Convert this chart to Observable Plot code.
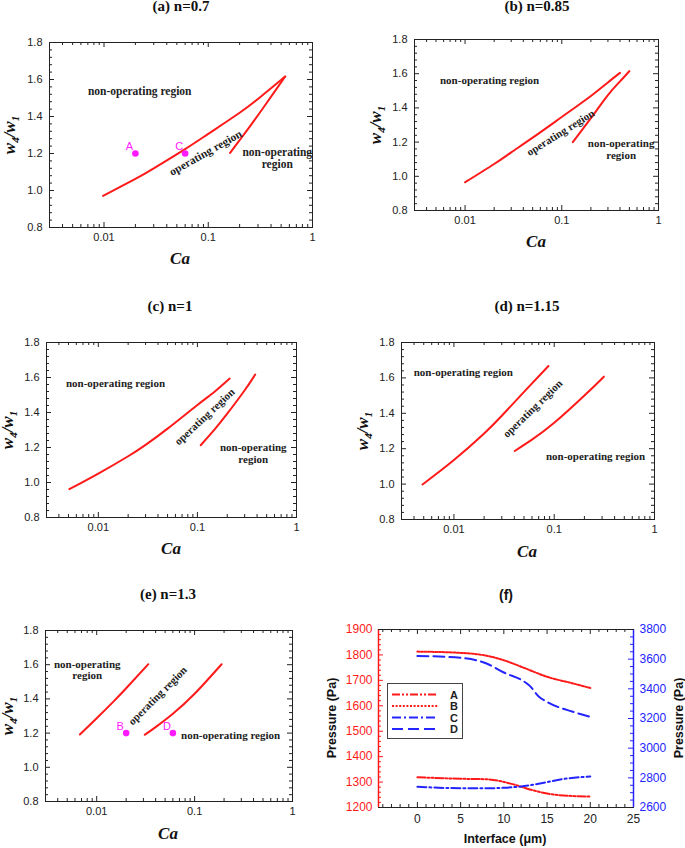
<!DOCTYPE html>
<html><head><meta charset="utf-8">
<script src="https://cdn.jsdelivr.net/npm/d3@7"></script>
<script src="https://cdn.jsdelivr.net/npm/@observablehq/plot@0.6"></script>
<style>
body{margin:0;background:#fff;}
#root{position:relative;width:685px;height:848px;overflow:hidden;font-family:"Liberation Sans",Arial,sans-serif;}
.pan{position:absolute;}
.lbl{position:absolute;white-space:nowrap;color:#111;}
.ttl{font-family:"Liberation Serif","Times New Roman",serif;font-weight:bold;font-size:15px;line-height:15px;transform:translateX(-50%);}
.ca{font-family:"Liberation Serif","Times New Roman",serif;font-weight:bold;font-style:italic;font-size:17px;line-height:17px;transform:translateX(-50%);}
.wl{font-family:"Liberation Serif","Times New Roman",serif;font-weight:bold;font-style:italic;font-size:17px;line-height:17px;transform:translate(-50%,-50%) rotate(-90deg);}
.wl span{font-size:11px;position:relative;top:4px;}
.sl{font-weight:bold;font-size:12.5px;line-height:12.5px;}
.box{position:absolute;box-sizing:border-box;pointer-events:none;}
#legend{position:absolute;border:1px solid #444;background:#fff;box-sizing:border-box;}
</style></head><body><div id="root"></div>
<script>
// ---------- DATA ----------
// (a) n=0.7
const caA_up = [0.0098, 0.02, 0.03, 0.06, 0.1, 0.2, 0.3, 0.4, 0.547];
const wA_up  = [0.971, 1.063, 1.12, 1.224, 1.306, 1.42, 1.495, 1.553, 1.616];
const caA_lo = [0.162, 0.2, 0.25, 0.34, 0.45, 0.547];
const wA_lo  = [1.203, 1.272, 1.345, 1.45, 1.548, 1.616];
// (b) n=0.85
const caB_up = [0.01, 0.02, 0.03, 0.05, 0.1, 0.2, 0.3, 0.4];
const wB_up  = [0.965, 1.072, 1.14, 1.226, 1.347, 1.47, 1.549, 1.605];
const caB_lo = [0.13, 0.2, 0.3, 0.4, 0.5];
const wB_lo  = [1.2, 1.34, 1.475, 1.555, 1.615];
// (c) n=1
const caC_up = [0.0051, 0.01, 0.02, 0.03, 0.05, 0.1, 0.15, 0.212];
const wC_up  = [0.962, 1.051, 1.15, 1.215, 1.308, 1.443, 1.52, 1.594];
const caC_lo = [0.108, 0.15, 0.2, 0.3, 0.383];
const wC_lo  = [1.213, 1.305, 1.393, 1.527, 1.617];
// (d) n=1.15
const caD_up = [0.00486, 0.01, 0.02, 0.03, 0.05, 0.0876];
const wD_up  = [0.998, 1.136, 1.286, 1.386, 1.521, 1.667];
const caD_lo = [0.0404, 0.06, 0.1, 0.2, 0.313];
const wD_lo  = [1.187, 1.251, 1.346, 1.5, 1.607];
// (e) n=1.3
const caE_up = [0.00673, 0.01, 0.015, 0.02, 0.0337];
const wE_up  = [1.192, 1.287, 1.387, 1.462, 1.603];
const caE_lo = [0.0309, 0.04, 0.06, 0.1, 0.189];
const wE_lo  = [1.19, 1.235, 1.313, 1.43, 1.603];
// operating points
const ptsA_names = ["A", "C"]; const ptsA_ca = [0.02, 0.06]; const ptsA_w = [1.2, 1.2];
const ptsE_names = ["B", "D"]; const ptsE_ca = [0.02, 0.06]; const ptsE_w = [1.2, 1.2];
// (f) pressure along interface
const fA_x = [0, 5, 8, 11, 13, 15, 18, 20];
const fA_p = [1319, 1313, 1311, 1292, 1271, 1255, 1245, 1243];
const fB_x = [0, 5, 8, 10, 12.5, 15, 18, 20];
const fB_p = [1813, 1808, 1797, 1779, 1747, 1714, 1688, 1670];
const fC_x = [0, 5, 8, 10, 12, 14, 17, 20];
const fC_p = [2740, 2730, 2730, 2733, 2742, 2760, 2793, 2809];
const fD_x = [0, 5, 8, 10, 12.5, 13, 14, 15, 18, 20];
const fD_p = [3622, 3609, 3571, 3510, 3443, 3420, 3350, 3312, 3245, 3211];
// tick labels
const caTicks = [0.01, 0.1, 1];
const wTicks = [0.8, 1.0, 1.2, 1.4, 1.6, 1.8];
const fXTicks = [0, 5, 10, 15, 20, 25];
const fLeftTicks = [1200, 1300, 1400, 1500, 1600, 1700, 1800, 1900];
const fRightTicks = [2600, 2800, 3000, 3200, 3400, 3600, 3800];
const titles = ["(a) n=0.7", "(b) n=0.85", "(c) n=1", "(d) n=1.15", "(e) n=1.3", "(f)"];

// ---------- HELPERS ----------
const root = document.getElementById("root");
const zip = (xs, ys) => xs.map((x, i) => ({x, y: ys[i]}));
const RED = "#ff1a1a", BLUE = "#2424ff", MAG = "#ff1aff", INK = "#222", FRAME = "#222";
const serif = "'Liberation Serif','Times New Roman',serif";
const sans = "'Liberation Sans',Arial,sans-serif";

function place(svg, left, top) {
  const d = document.createElement("div");
  d.className = "pan"; d.style.left = left + "px"; d.style.top = top + "px";
  d.appendChild(svg); root.appendChild(d);
}
function frameBox(fx, fy, fw, fh, css) {
  const b = document.createElement("div");
  b.className = "box";
  Object.assign(b.style, {left: fx + "px", top: fy + "px", width: (fw + 1) + "px", height: (fh + 1) + "px"}, css);
  root.appendChild(b);
}

const xMinorLog = [];
for (const dec of [0.001, 0.01, 0.1]) for (let k = 2; k <= 9; k++) {
  const v = +(k * dec).toPrecision(3);
  if (v >= 0.003 && v < 1) xMinorLog.push(v);
}
const wMinor = d3.range(21, 45).map(i => +(i * 0.04).toFixed(2)).filter(v => v > 0.8 && v < 1.8 && Math.abs(v * 5 - Math.round(v * 5)) > 1e-6);

function xTicks(vals, H, len, color) {
  return [
    Plot.ruleX(vals, {x: d => d, insetTop: H - len, stroke: color, strokeWidth: 1}),
    Plot.ruleX(vals, {x: d => d, insetBottom: H - len, stroke: color, strokeWidth: 1})
  ];
}
function yTicksL(vals, W, len, color) { return [Plot.ruleY(vals, {y: d => d, insetRight: W - len, stroke: color, strokeWidth: 1})]; }
function yTicksR(vals, W, len, color) { return [Plot.ruleY(vals, {y: d => d, insetLeft: W - len, stroke: color, strokeWidth: 1})]; }

function logPanel(cfg) {
  const W = cfg.fw, H = cfg.fh, mL = 42, mR = 14, mT = 8, mB = 24;
  const xd = [0.003, 1], yd = [0.8, 1.8];
  const marks = [
    Plot.frame({stroke: FRAME}),
    ...xTicks(caTicks, H, 5, FRAME),
    ...xTicks(xMinorLog, H, 3, FRAME),
    ...yTicksL(wTicks, W, 5, FRAME), ...yTicksR(wTicks, W, 5, FRAME),
    ...yTicksL(wMinor, W, 3, FRAME), ...yTicksR(wMinor, W, 3, FRAME),
    Plot.axisX({ticks: caTicks, tickSize: 0, tickPadding: 6, tickFormat: d => String(d), fontSize: 11, fill: INK, label: null}),
    Plot.axisY({ticks: wTicks, tickSize: 0, tickPadding: 7, tickFormat: d => d.toFixed(1), fontSize: 11, fill: INK, label: null}),
    Plot.line(zip(cfg.up[0], cfg.up[1]), {x: "x", y: "y", stroke: RED, strokeWidth: 2, curve: "natural"}),
    Plot.line(zip(cfg.lo[0], cfg.lo[1]), {x: "x", y: "y", stroke: RED, strokeWidth: 2, curve: "natural"}),
    Plot.text(cfg.notes, {x: "ca", y: "w", text: "t", rotate: "r", fontFamily: serif, fontWeight: "bold", fontSize: cfg.fs, fill: INK, lineHeight: 1.08})
  ];
  if (cfg.pts) {
    const P = cfg.pts[0].map((n, i) => ({n, x: cfg.pts[1][i], y: cfg.pts[2][i]}));
    marks.push(Plot.dot(P, {x: "x", y: "y", r: 3.3, fill: MAG, stroke: "none"}));
    marks.push(Plot.text(P, {x: "x", y: "y", text: "n", dx: -6, dy: -7, fill: MAG, fontSize: 11, fontFamily: sans}));
  }
  const svg = Plot.plot({
    width: W + mL + mR, height: H + mT + mB,
    marginLeft: mL, marginRight: mR, marginTop: mT, marginBottom: mB,
    style: {fontFamily: sans, fontSize: "11px", background: "transparent", overflow: "visible"},
    x: {type: "log", domain: xd, label: null},
    y: {domain: yd, label: null},
    marks
  });
  place(svg, cfg.fx - mL, cfg.fy - mT);
  frameBox(cfg.fx, cfg.fy, W, H, {border: "1px solid " + FRAME});
}

// ---------- PANELS a–e ----------
logPanel({fx: 49, fy: 42, fw: 263, fh: 185, fs: 11.5,
  up: [caA_up, wA_up], lo: [caA_lo, wA_lo], pts: [ptsA_names, ptsA_ca, ptsA_w],
  notes: [
    {t: "non-operating region", ca: 0.022, w: 1.54, r: 0},
    {t: "operating region", ca: 0.094, w: 1.205, r: -29.5},
    {t: "non-operating\nregion", ca: 0.459, w: 1.174, r: 0}
  ]});
logPanel({fx: 414, fy: 39, fw: 244, fh: 171, fs: 11,
  up: [caB_up, wB_up], lo: [caB_lo, wB_lo],
  notes: [
    {t: "non-operating region", ca: 0.0179, w: 1.56, r: 0},
    {t: "operating region", ca: 0.097, w: 1.256, r: -32},
    {t: "non-operating\nregion", ca: 0.411, w: 1.158, r: 0}
  ]});
logPanel({fx: 46, fy: 342, fw: 250, fh: 175, fs: 11,
  up: [caC_up, wC_up], lo: [caC_lo, wC_lo],
  notes: [
    {t: "non-operating region", ca: 0.0149, w: 1.566, r: 0},
    {t: "operating region", ca: 0.118, w: 1.377, r: -43},
    {t: "non-operating\nregion", ca: 0.366, w: 1.17, r: 0}
  ]});
logPanel({fx: 401, fy: 342, fw: 253, fh: 177, fs: 11,
  up: [caD_up, wD_up], lo: [caD_lo, wD_lo],
  notes: [
    {t: "non-operating region", ca: 0.0124, w: 1.63, r: 0},
    {t: "operating region", ca: 0.0607, w: 1.427, r: -44},
    {t: "non-operating region", ca: 0.258, w: 1.156, r: 0}
  ]});
logPanel({fx: 45, fy: 630, fw: 247, fh: 171, fs: 11,
  up: [caE_up, wE_up], lo: [caE_lo, wE_lo], pts: [ptsE_names, ptsE_ca, ptsE_w],
  notes: [
    {t: "non-operating\nregion", ca: 0.008, w: 1.571, r: 0},
    {t: "operating region", ca: 0.0418, w: 1.42, r: -45},
    {t: "non-operating region", ca: 0.233, w: 1.186, r: 0}
  ]});

// ---------- PANEL f ----------
(function () {
  const W = 255, H = 178, mL = 42, mR = 42, mT = 8, mB = 24;
  const xDom = [-4.5, 25], yDom = [1200, 1900], rDom = [2600, 3800];
  const toL = v => yDom[0] + (v - rDom[0]) * (yDom[1] - yDom[0]) / (rDom[1] - rDom[0]);
  const fromL = v => rDom[0] + (v - yDom[0]) * (rDom[1] - rDom[0]) / (yDom[1] - yDom[0]);
  const xMinor = d3.range(-4, 25).filter(v => v % 5 !== 0);
  const lMinor = d3.range(1220, 1900, 20).filter(v => v % 100 !== 0);
  const rMinor = d3.range(2650, 3800, 50).filter(v => v % 200 !== 0).map(toL);
  const rMajor = fRightTicks.map(toL);
  const series = [
    {x: fA_x, y: fA_p, c: RED, dash: "8,2,2,2,2,2"},
    {x: fB_x, y: fB_p, c: RED, dash: "2,1.6"},
    {x: fC_x, y: fC_p.map(toL), c: BLUE, dash: "9,3,2,3"},
    {x: fD_x, y: fD_p.map(toL), c: BLUE, dash: "11,5"}
  ];
  const marks = [
    Plot.frame({stroke: FRAME}),
    ...xTicks(fXTicks, H, 5, FRAME),
    ...xTicks(xMinor, H, 3, FRAME),
    ...yTicksL(fLeftTicks, W, 5, RED), ...yTicksL(lMinor, W, 3, RED),
    ...yTicksR(rMajor, W, 5, BLUE), ...yTicksR(rMinor, W, 3, BLUE),
    Plot.ruleX([xDom[0]], {x: d => d, stroke: RED, strokeWidth: 1.5}),
    Plot.ruleX([xDom[1]], {x: d => d, stroke: BLUE, strokeWidth: 1.5}),
    Plot.axisX({ticks: fXTicks, tickSize: 0, tickPadding: 7, tickFormat: d => String(d), fontSize: 12, fill: INK, label: null}),
    Plot.axisY({ticks: fLeftTicks, tickSize: 0, tickPadding: 6, tickFormat: d => String(d), fontSize: 12, fill: RED, label: null}),
    Plot.axisY({anchor: "right", ticks: rMajor, tickSize: 0, tickPadding: 6, fontSize: 12, fill: BLUE, label: null,
      tickFormat: d => String(Math.round(fromL(d)))}),
    ...series.map(s => Plot.line(zip(s.x, s.y), {x: "x", y: "y", stroke: s.c, strokeWidth: 2, strokeDasharray: s.dash, curve: "monotone-x"}))
  ];
  const svg = Plot.plot({
    width: W + mL + mR, height: H + mT + mB,
    marginLeft: mL, marginRight: mR, marginTop: mT, marginBottom: mB,
    style: {fontFamily: sans, fontSize: "12px", background: "transparent", overflow: "visible"},
    x: {domain: xDom, label: null},
    y: {domain: yDom, label: null},
    marks
  });
  place(svg, 378 - mL, 629 - mT);
  frameBox(378, 629, W, H, {borderTop: "1px solid " + FRAME, borderBottom: "1px solid " + FRAME});

  // legend
  const lg = document.createElement("div");
  lg.id = "legend";
  Object.assign(lg.style, {left: "387px", top: "683px", width: "76px", height: "56px"});
  const names = ["A", "B", "C", "D"];
  const ns = "http://www.w3.org/2000/svg";
  const ls = document.createElementNS(ns, "svg");
  ls.setAttribute("width", 74); ls.setAttribute("height", 54);
  series.forEach((s, i) => {
    const yy = 10.5 + i * 11.5;
    const ln = document.createElementNS(ns, "line");
    ln.setAttribute("x1", 4); ln.setAttribute("x2", 50); ln.setAttribute("y1", yy); ln.setAttribute("y2", yy);
    ln.setAttribute("stroke", s.c); ln.setAttribute("stroke-width", 2); ln.setAttribute("stroke-dasharray", s.dash);
    ls.appendChild(ln);
    const tx = document.createElementNS(ns, "text");
    tx.setAttribute("x", 66); tx.setAttribute("y", yy + 4); tx.setAttribute("text-anchor", "middle");
    tx.setAttribute("font-family", sans); tx.setAttribute("font-weight", "bold"); tx.setAttribute("font-size", 11);
    tx.setAttribute("fill", INK);
    tx.textContent = names[i];
    ls.appendChild(tx);
  });
  lg.appendChild(ls);
  root.appendChild(lg);
})();

// ---------- TITLES & AXIS LABELS (HTML) ----------
(function () {
  function lbl(cls, html, left, top, extra) {
    const d = document.createElement("div");
    d.className = "lbl " + cls;
    d.style.left = left + "px"; d.style.top = top + "px";
    if (extra) Object.assign(d.style, extra);
    d.innerHTML = html;
    root.appendChild(d);
    return d;
  }
  const titlePos = [[181, -0.6], [537, -0.6], [170, 299.4], [527, 299.4], [168, 587.4]];
  titlePos.forEach((p, i) => lbl("ttl", titles[i], p[0], p[1]));
  lbl("sl", titles[5], 506, 588, {fontSize: "14px", lineHeight: "14px", transform: "translateX(-50%)"});
  [[180, 249.8], [536, 232.8], [171, 539.8], [527, 542.8], [168, 824.8]].forEach(p => lbl("ca", "Ca", p[0], p[1]));
  [[10.3, 134.5], [376.3, 124.5], [8.3, 429.5], [363.3, 430.5], [8.3, 715.5]].forEach(p =>
    lbl("wl", "w<span>4</span>/w<span>1</span>", p[0], p[1]));
  lbl("sl", "Interface (\u03bcm)", 505, 833.4, {transform: "translateX(-50%)"});
  [[331.7, 718], [678.7, 718]].forEach(p =>
    lbl("sl", "Pressure (Pa)", p[0], p[1], {transform: "translate(-50%,-50%) rotate(-90deg)"}));
})();
</script></body></html>
